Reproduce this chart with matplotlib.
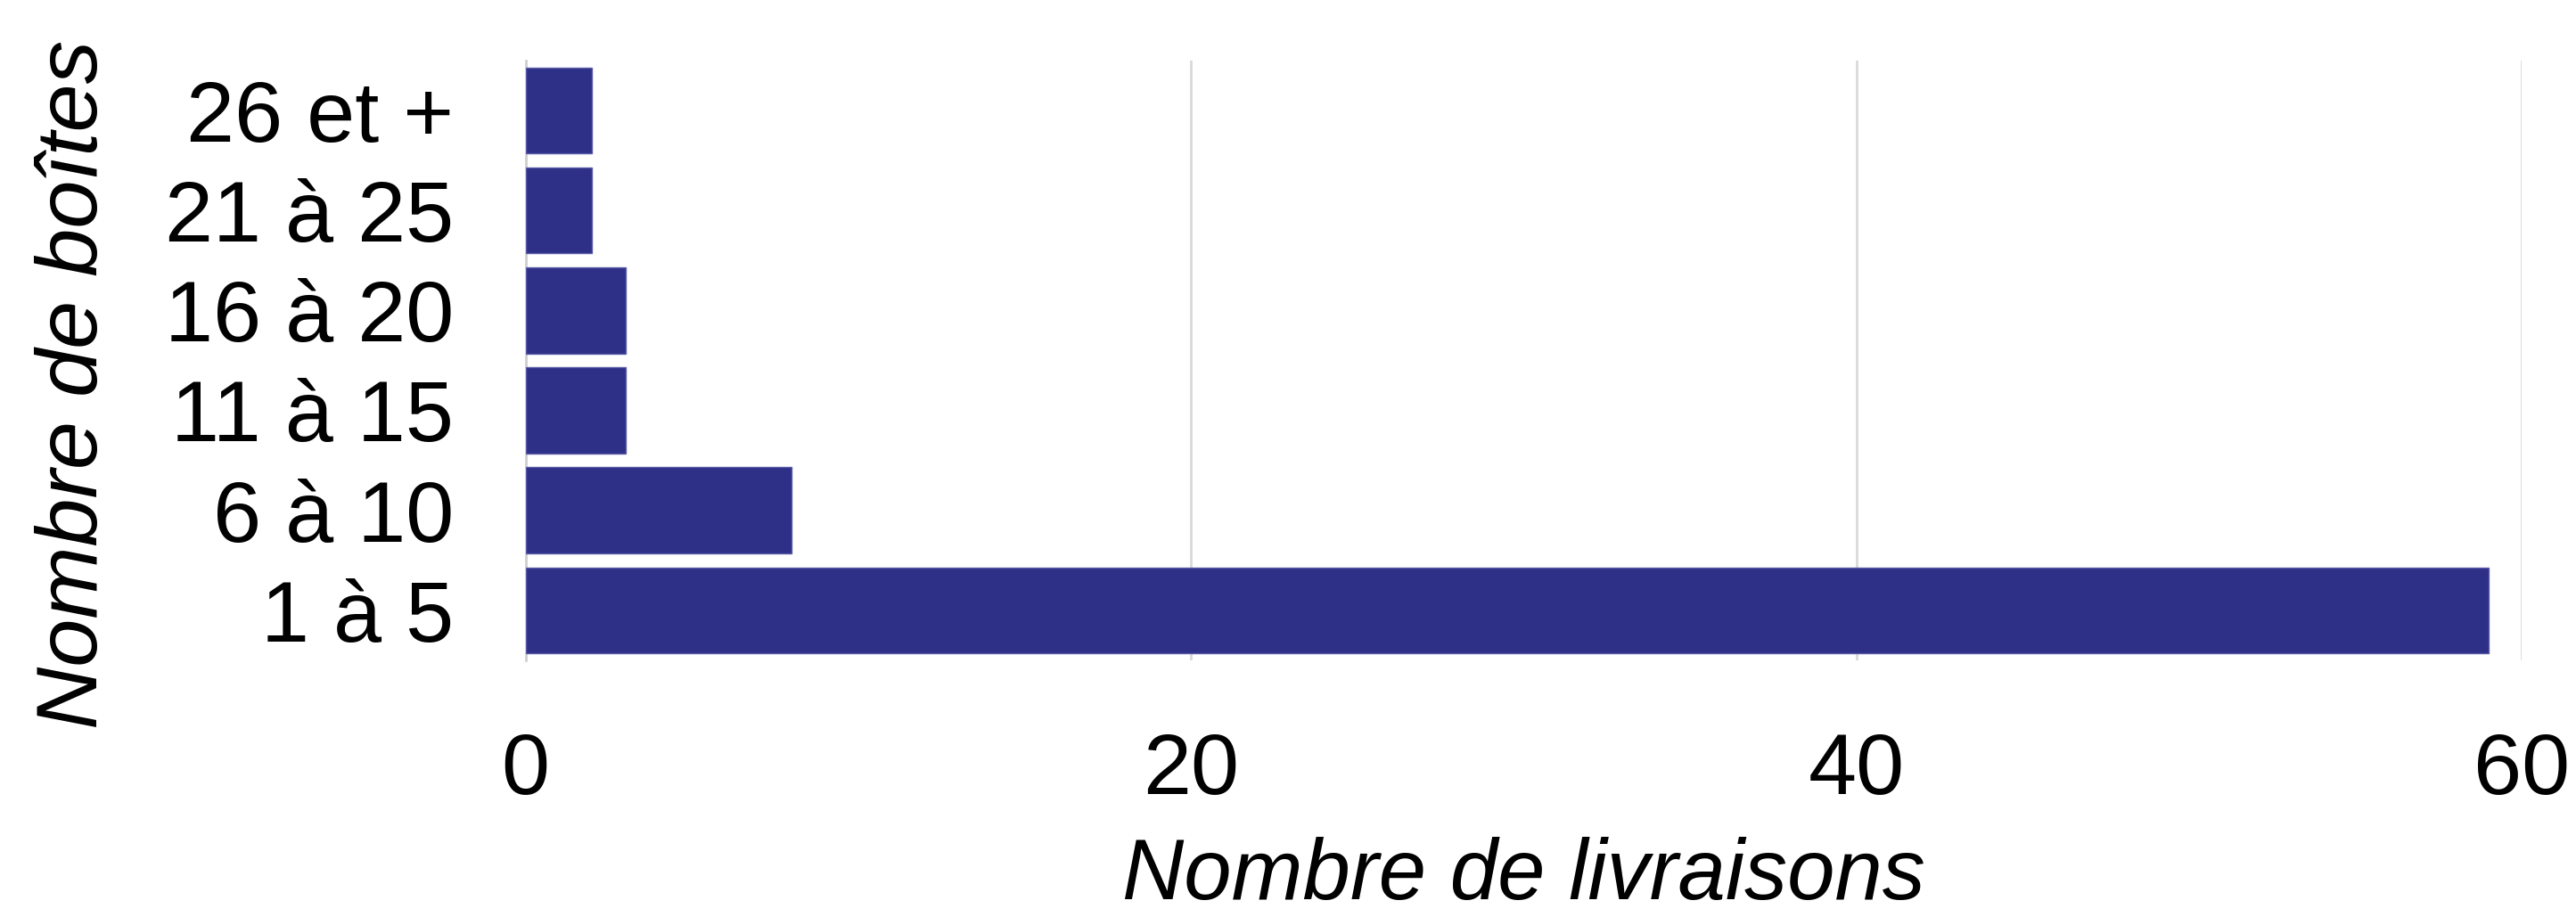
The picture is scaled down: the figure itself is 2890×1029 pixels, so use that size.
import matplotlib.pyplot as plt

plt.rcParams["font.family"] = ["Liberation Sans", "DejaVu Sans"]

categories = ["1 à 5", "6 à 10", "11 à 15", "16 à 20", "21 à 25", "26 et +"]
livraisons = [59, 8, 3, 3, 2, 2]
xticks = [0, 20, 40, 60]

fig = plt.figure(figsize=(28.9, 10.29), dpi=100)
ax = fig.add_axes([0.204, 0.28, 0.775, 0.654])

ax.barh(categories, livraisons, height=0.86, color="#2E2F87",
        edgecolor="#5b5ca8", linewidth=1.0, zorder=3)

ax.set_xlim(0, 60)
ax.set_ylim(-0.5, 5.5)
ax.set_xticks(xticks)
ax.grid(axis="x", color="#d9d9d9", linewidth=2, zorder=0)
ax.set_axisbelow(True)

for side in ["top", "right", "bottom"]:
    ax.spines[side].set_visible(False)
ax.spines["left"].set_color("#d0d0d0")
ax.spines["left"].set_linewidth(2)

ax.tick_params(axis="both", length=0, labelsize=70)
ax.tick_params(axis="x", pad=58)
ax.tick_params(axis="y", pad=58)

ax.set_xlabel("Nombre de livraisons", fontsize=69, style="italic", labelpad=20)
ax.set_ylabel("Nombre de boîtes", fontsize=70, style="italic", labelpad=40)
ax.yaxis.label.set_y(0.46)

plt.savefig("out.png", dpi=100)
